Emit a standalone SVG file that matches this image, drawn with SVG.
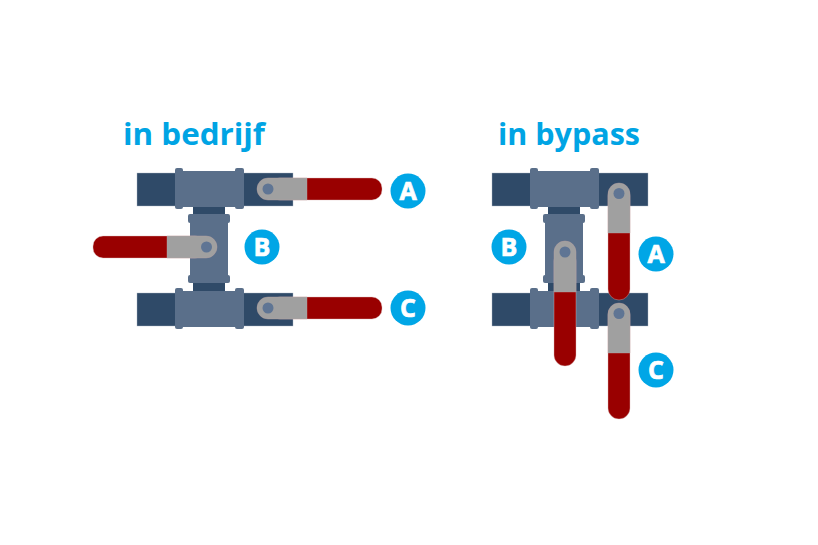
<svg xmlns="http://www.w3.org/2000/svg" xmlns:xlink="http://www.w3.org/1999/xlink" width="818" height="545" viewBox="0 0 818 545">
<style>
.pipe{fill:#2f4a68;stroke:#aab5c3;stroke-width:.4}
.neck{fill:#2f4a68}
.fit{fill:#5a6f8a}
.red{fill:#990000;stroke:#d8b8b8;stroke-width:.4}
.grey{fill:#a0a0a0;stroke:#bda5a5;stroke-width:.4}
.pin{fill:#5f7594}
.badge{fill:#00a6e6}
.ltr{font:700 25px "Open Sans","Noto Sans",sans-serif;fill:#fff;stroke:#fff;stroke-width:.7;text-anchor:middle}
.title{font:700 30px "Open Sans","Noto Sans",sans-serif;fill:#00a4e4}
</style>
<defs>
<g id="tee">
<rect class="pipe" x="137" y="173" width="156" height="33"/>
<rect class="fit" x="175" y="171" width="69" height="36"/>
<rect class="fit" x="175" y="168" width="8" height="41" rx="2"/>
<rect class="fit" x="235" y="168" width="9" height="41" rx="2"/>
</g>
<g id="riser">
<rect class="neck" x="193" y="205" width="32" height="10"/>
<rect class="neck" x="193" y="282" width="32" height="10"/>
<rect class="fit" x="190" y="216" width="38" height="66"/>
<rect class="fit" x="188" y="214" width="42" height="9" rx="2"/>
<rect class="fit" x="188" y="275" width="42" height="8" rx="2"/>
</g>
</defs>
<text class="title" x="123" y="145" textLength="142" lengthAdjust="spacingAndGlyphs">in bedrijf</text>
<text class="title" x="498" y="145" textLength="142" lengthAdjust="spacingAndGlyphs">in bypass</text>
<g id="connectors"/>
<g id="riser-left"><use xlink:href="#riser"/></g>
<g id="tee-left-top"><use xlink:href="#tee"/></g>
<g id="tee-left-bottom"><use xlink:href="#tee" y="120"/></g>
<g id="valve-A-left">
<rect class="red" x="270" y="178" width="112" height="22" rx="10"/>
<path class="grey" d="M307 178H268a11 11 0 0 0 0 22H307Z"/>
<circle class="pin" cx="268" cy="189" r="5.500"/>
</g>
<g id="valve-B-left">
<rect class="red" x="93" y="236" width="112" height="22" rx="10"/>
<path class="grey" d="M167 236H206a11 11 0 0 1 0 22H167Z"/>
<circle class="pin" cx="206.500" cy="247" r="5.500"/>
</g>
<g id="valve-C-left">
<rect class="red" x="270" y="297" width="112" height="22" rx="10"/>
<path class="grey" d="M307 297H268a11 11 0 0 0 0 22H307Z"/>
<circle class="pin" cx="268" cy="308" r="5.500"/>
</g>
<g id="badge-A-left"><circle class="badge" cx="408" cy="191" r="17.500"/><text class="ltr" x="408" y="200">A</text></g>
<g id="badge-B-left"><circle class="badge" cx="262" cy="247" r="17.500"/><text class="ltr" x="262" y="256">B</text></g>
<g id="badge-C-left"><circle class="badge" cx="408" cy="308" r="17.500"/><text class="ltr" x="408" y="317">C</text></g>
<g id="riser-right"><use xlink:href="#riser" x="355"/></g>
<g id="tee-right-top"><use xlink:href="#tee" x="355"/></g>
<g id="tee-right-bottom"><use xlink:href="#tee" x="355" y="120"/></g>
<g id="valve-A-right">
<rect class="red" x="608" y="185" width="22" height="115" rx="11"/>
<path class="grey" d="M608 233V194a11 11 0 0 1 22 0V233Z"/>
<circle class="pin" cx="619" cy="193.500" r="5.500"/>
</g>
<g id="valve-B-right">
<rect class="red" x="554" y="250" width="22" height="116" rx="11"/>
<path class="grey" d="M554 292V252a11 11 0 0 1 22 0V292Z"/>
<circle class="pin" cx="565" cy="252" r="5.500"/>
</g>
<g id="valve-C-right">
<rect class="red" x="608" y="304" width="22" height="115" rx="11"/>
<path class="grey" d="M608 353V314a11 11 0 0 1 22 0V353Z"/>
<circle class="pin" cx="619" cy="313.500" r="5.500"/>
</g>
<g id="badge-A-right"><circle class="badge" cx="656" cy="254" r="17.500"/><text class="ltr" x="656" y="263">A</text></g>
<g id="badge-B-right"><circle class="badge" cx="509" cy="247" r="17.500"/><text class="ltr" x="509" y="256">B</text></g>
<g id="badge-C-right"><circle class="badge" cx="656" cy="370" r="17.500"/><text class="ltr" x="656" y="379">C</text></g>
</svg>
